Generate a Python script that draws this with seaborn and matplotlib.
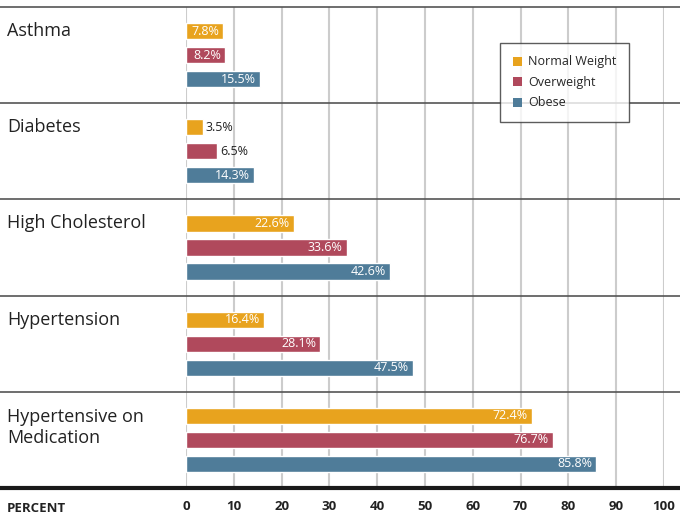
import matplotlib
matplotlib.use("Agg")
import matplotlib.pyplot as plt
import matplotlib.transforms as mtransforms
import seaborn as sns
import pandas as pd

categories = ["Asthma", "Diabetes", "High Cholesterol", "Hypertension", "Hypertensive on\nMedication"]
groups = ["Normal Weight", "Overweight", "Obese"]
normal_weight = [7.8, 3.5, 22.6, 16.4, 72.4]
overweight = [8.2, 6.5, 33.6, 28.1, 76.7]
obese = [15.5, 14.3, 42.6, 47.5, 85.8]
xticks = [0, 10, 20, 30, 40, 50, 60, 70, 80, 90, 100]
colors = ["#E8A31E", "#B0495C", "#4F7C99"]

rows = []
for g, vals in zip(groups, [normal_weight, overweight, obese]):
    for c, v in zip(categories, vals):
        rows.append({"category": c, "group": g, "value": v})
df = pd.DataFrame(rows)

sns.set_style("white")
plt.rcParams["font.family"] = ["Open Sans", "DejaVu Sans"]

W, H = 680, 516
fig = plt.figure(figsize=(W / 100, H / 100), dpi=100)
ax_l, ax_r, ax_t, ax_b = 186, 664, 7, 488
ax = fig.add_axes([ax_l / W, 1 - ax_b / H, (ax_r - ax_l) / W, (ax_b - ax_t) / H])

sns.barplot(data=df, x="value", y="category", hue="group", orient="h",
            palette=colors, width=0.75, gap=0.33, ax=ax, saturation=1,
            errorbar=None, zorder=3)

ax.set_xlim(0, 100)
ax.set_ylim(len(categories) - 0.5, -0.5)
ax.set_xticks(xticks)
ax.set_xticklabels([str(t) for t in xticks], fontweight="bold", fontsize=9.5)
ax.tick_params(axis="x", length=0, pad=9, colors="#222222")
ax.set_yticks([])
ax.set_xlabel("")
ax.set_ylabel("")
for s in ax.spines.values():
    s.set_visible(False)

# vertical grid
for t in xticks:
    ax.axvline(t, color="#cccccc", lw=1.5, zorder=1)

# separators
axw = ax_r - ax_l
xmin = -ax_l / axw
xmax = (W - ax_l) / axw
for i in range(len(categories)):
    ax.axhline(i - 0.5, xmin=xmin, xmax=xmax, color="#555555", lw=1.2, clip_on=False, zorder=4)
ax.axhline(len(categories) - 0.5, xmin=xmin, xmax=xmax, color="#1a1a1a", lw=3, clip_on=False, zorder=4)

# category labels
trans = mtransforms.blended_transform_factory(fig.transFigure, ax.transData)
for i, c in enumerate(categories):
    n = c.count("\n")
    ax.text(7 / W, i - 0.25 + 0.12 * n, c, transform=trans, ha="left", va="center",
            fontsize=13, color="#222222", linespacing=1.25)

# value labels
for container in ax.containers:
    for bar in container:
        v = bar.get_width()
        yc = bar.get_y() + bar.get_height() / 2
        if v >= 7:
            ax.annotate(f"{v:.1f}%", (v, yc), xytext=(-3, 0), textcoords="offset points",
                        ha="right", va="center", color="white", fontsize=9, zorder=5)
        else:
            ax.annotate(f"{v:.1f}%", (v, yc), xytext=(2, 0), textcoords="offset points",
                        ha="left", va="center", color="#222222", fontsize=9, zorder=5)

# PERCENT label
fig.text(7 / W, 1 - 509 / H, "PERCENT", fontweight="bold", fontsize=9.5, ha="left",
         va="center", color="#222222")

leg = ax.legend(loc="upper left", bbox_to_anchor=((500 - ax_l) / axw, 1 - (43 - ax_t) / (ax_b - ax_t)),
                borderaxespad=0, frameon=True, fancybox=False, fontsize=9,
                handlelength=0.7, handleheight=0.8, handletextpad=0.55,
                labelspacing=0.6, borderpad=1.0, title=None)
sq = 6.6
for h in leg.legend_handles:
    h.set_linewidth(0)
    oh = h.get_height()
    h.set_y(h.get_y() + (oh - sq) / 2)
    h.set_height(sq)
    h.set_width(sq)
leg.get_frame().set_edgecolor("#333333")
leg.get_frame().set_linewidth(1)
leg.set_zorder(6)

fig.savefig("out.png", dpi=100)
